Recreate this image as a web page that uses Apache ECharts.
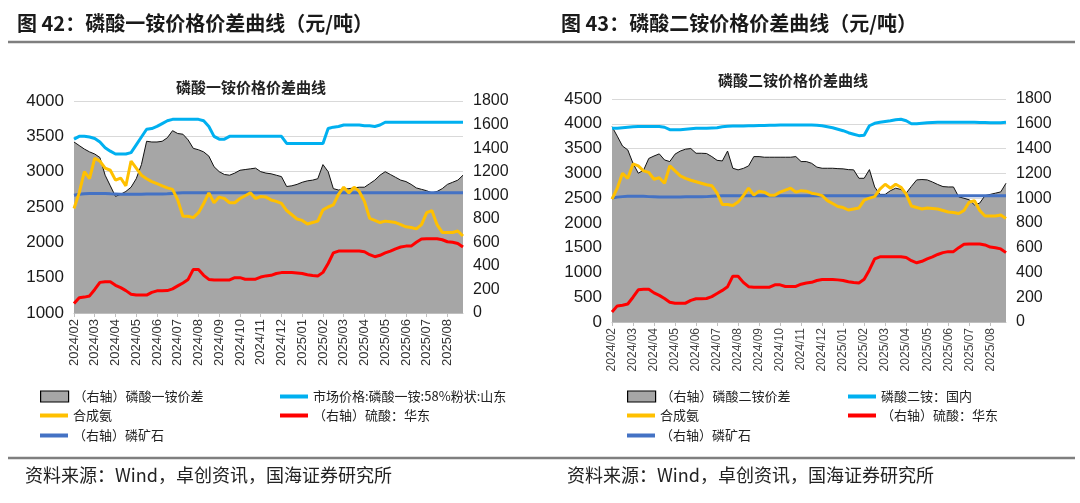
<!DOCTYPE html>
<html>
<head>
<meta charset="utf-8">
<script src="https://cdn.jsdelivr.net/npm/echarts@6/dist/echarts.min.js"></script>
<style>
  html, body { margin: 0; padding: 0; background: #fff; }
  #main { width: 1080px; height: 503px; }
</style>
</head>
<body>
<div id="main"></div>
<script>
// 月份 + 每月四个采样日
var months = ['2024/02','2024/03','2024/04','2024/05','2024/06','2024/07','2024/08','2024/09','2024/10',
    '2024/11','2024/12','2025/01','2025/02','2025/03','2025/04','2025/05','2025/06','2025/07','2025/08'];
var weekDays = ['01','08','16','23'];
var dates = [];
months.forEach(function (m) {
    weekDays.forEach(function (d) { dates.push(m + '/' + d); });
});

// 图42 磷酸一铵
var mapSpread = [1452,1422,1392,1368, 1350,1320,1170,1080, 990,1008,1032,1068, 1140,1260,1458,1452,
    1452,1458,1488,1548, 1524,1518,1470,1398, 1386,1368,1332,1242, 1200,1176,1170,1188,
    1212,1218,1224,1230, 1200,1188,1182,1170, 1158,1074,1080,1092, 1110,1122,1128,1140,
    1260,1200,1056,1044, 1050,1056,1062,1068, 1068,1098,1128,1170, 1200,1176,1152,1128,
    1116,1092,1062,1050, 1038,1020,1032,1056, 1092,1110,1128,1170];
var mapPrice = [3460,3500,3500,3490, 3470,3420,3340,3290, 3250,3250,3250,3270, 3380,3490,3600,3610,
    3640,3680,3720,3740, 3740,3740,3740,3740, 3740,3720,3640,3500, 3460,3460,3500,3500,
    3500,3500,3500,3500, 3500,3500,3500,3500, 3500,3400,3400,3400, 3400,3400,3400,3400,
    3400,3610,3630,3640, 3660,3660,3660,3660, 3650,3650,3640,3660, 3700,3700,3700,3700,
    3700,3700,3700,3700, 3700,3700,3700,3700, 3700,3700,3700,3700];

// 图43 磷酸二铵
var dapSpread = [1577,1500,1420,1389, 1281,1201,1225,1320, 1340,1357,1308,1295, 1355,1380,1395,1400,
    1362,1362,1360,1335, 1305,1300,1380,1241, 1228,1240,1260,1335, 1335,1330,1330,1330,
    1330,1330,1330,1335, 1295,1295,1281,1250, 1241,1241,1241,1238, 1236,1230,1228,1160,
    1160,1230,1090,1030, 1030,1060,1080,1070, 1040,1095,1147,1150, 1147,1130,1110,1093,
    1090,1090,1010,999, 986,945,960,1020, 1030,1040,1050,1120];
var dapPrice = [3910,3910,3920,3930, 3940,3945,3945,3945, 3945,3945,3930,3880, 3880,3880,3890,3900,
    3910,3910,3910,3915, 3920,3940,3950,3955, 3955,3955,3960,3960, 3965,3965,3970,3970,
    3975,3975,3975,3975, 3975,3975,3975,3970, 3960,3940,3920,3890, 3860,3820,3790,3760,
    3770,3960,4010,4030, 4045,4060,4080,4090, 4060,4000,4000,4010, 4020,4025,4030,4030,
    4030,4030,4030,4030, 4030,4030,4025,4025, 4020,4020,4020,4030];

// 共用：合成氨、硫酸、磷矿石
var ammonia = [2480,2700,3000,2900, 3190,3150,3050,3020, 2880,2910,2800,3150, 3050,2950,2900,2860,
    2830,2800,2770,2750, 2600,2370,2370,2350, 2420,2550,2700,2560, 2640,2620,2560,2560,
    2620,2660,2700,2620, 2650,2640,2600,2580, 2550,2450,2390,2330, 2310,2260,2280,2300,
    2460,2500,2530,2680, 2780,2700,2780,2720, 2580,2340,2310,2280, 2300,2290,2280,2250,
    2220,2210,2190,2250, 2420,2450,2250,2140, 2140,2140,2160,2090];
var sulfuric = [80,130,135,145, 200,260,265,265, 235,215,190,160, 152,152,152,175,
    188,188,190,205, 230,255,285,370, 370,320,285,281, 281,281,281,300,
    300,287,287,287, 305,315,320,335, 343,343,343,340, 335,325,318,315,
    345,420,510,526, 526,526,526,526, 520,495,478,490, 510,526,545,560,
    568,568,600,628, 630,630,630,622, 605,600,590,560];
var rock = [1000,1008,1012,1015, 1015,1015,1015,1012, 1010,1008,1008,1008, 1008,1008,1010,1010,
    1010,1010,1012,1015, 1018,1020,1020,1020, 1020,1020,1020,1020, 1020,1020,1020,1020,
    1020,1020,1020,1020, 1020,1020,1020,1020, 1020,1020,1020,1020, 1020,1020,1020,1020,
    1020,1020,1020,1020, 1020,1020,1020,1020, 1020,1020,1020,1020, 1020,1020,1020,1020,
    1020,1020,1020,1020, 1020,1020,1020,1020, 1020,1020,1020,1020];

var leftTicks = [1000, 4000, 500];
var rightTicks = [0, 4500, 500];
var rAxisTicks = [0, 1800, 200];

var CJK = '"Noto Sans CJK SC", sans-serif';
var NUM = '"Liberation Sans", Arial, sans-serif';

function monthOnly(idx) { return idx % 4 === 0; }

function xAxisOf(grid, size, color) {
    return {
        type: 'category', gridIndex: grid, data: dates, boundaryGap: false,
        axisLine: {lineStyle: {color: '#bfbfbf', width: 1}},
        axisTick: {interval: monthOnly, length: 4, lineStyle: {color: '#bfbfbf'}},
        axisLabel: {
            interval: monthOnly, rotate: 90, fontSize: size, color: color, fontFamily: NUM, margin: 6,
            formatter: function (v) { return v.slice(0, 7); }
        },
        splitLine: {show: false}
    };
}

function yAxisOf(grid, t, pos, split, size) {
    return {
        type: 'value', gridIndex: grid, position: pos, min: t[0], max: t[1], interval: t[2],
        axisLine: {show: false}, axisTick: {show: false},
        axisLabel: {fontSize: size, color: '#1a1a1a', fontFamily: NUM, margin: 10,
            formatter: function (v) { return String(v); }},
        splitLine: {show: split, lineStyle: {color: '#d9d9d9', width: 1}}
    };
}

function lineSeries(name, data, color, x, y, z) {
    return {
        name: name, type: 'line', xAxisIndex: x, yAxisIndex: y, data: data,
        symbol: 'none', z: z, lineStyle: {color: color, width: 3}, itemStyle: {color: color}
    };
}

function areaSeries(name, data, x, y) {
    return {
        name: name, type: 'line', xAxisIndex: x, yAxisIndex: y, data: data,
        symbol: 'none', z: 1,
        lineStyle: {color: '#111', width: 1},
        itemStyle: {color: '#a6a6a6'},
        areaStyle: {color: '#a6a6a6', opacity: 1}
    };
}

function legendOf(name, left, top, isArea) {
    var item = {name: name};
    if (isArea) item.itemStyle = {color: '#a6a6a6', borderColor: '#000', borderWidth: 1.2};
    return {
        left: left, top: top, icon: 'rect', selectedMode: false,
        itemWidth: 28, itemHeight: isArea ? 11 : 4, itemGap: 6,
        data: [item],
        textStyle: {fontSize: 13, color: '#222', fontFamily: CJK}
    };
}

var chart = echarts.init(document.getElementById('main'));
var option = {
    animation: false,
    backgroundColor: '#fff',
    title: [
        {text: '图 42：磷酸一铵价格价差曲线（元/吨）', left: 12, top: 8,
            textStyle: {fontSize: 20, fontWeight: 'bold', color: '#1a1a1a', fontFamily: CJK}},
        {text: '图 43：磷酸二铵价格价差曲线（元/吨）', left: 556, top: 8,
            textStyle: {fontSize: 20, fontWeight: 'bold', color: '#1a1a1a', fontFamily: CJK}},
        {text: '磷酸一铵价格价差曲线', left: 246, top: 75, textAlign: 'center',
            textStyle: {fontSize: 15, fontWeight: 'bold', color: '#222', fontFamily: CJK}},
        {text: '磷酸二铵价格价差曲线', left: 788, top: 68, textAlign: 'center',
            textStyle: {fontSize: 15, fontWeight: 'bold', color: '#222', fontFamily: CJK}},
        {text: '资料来源：Wind，卓创资讯，国海证券研究所', left: 20, top: 461,
            textStyle: {fontSize: 18, fontWeight: 'normal', color: '#222', fontFamily: CJK}},
        {text: '资料来源：Wind，卓创资讯，国海证券研究所', left: 562, top: 461,
            textStyle: {fontSize: 18, fontWeight: 'normal', color: '#222', fontFamily: CJK}}
    ],
    graphic: [
        {type: 'line', shape: {x1: 8, y1: 42, x2: 1075, y2: 42}, style: {stroke: '#7f7f7f', lineWidth: 2.5}},
        {type: 'line', shape: {x1: 8, y1: 458, x2: 1075, y2: 458}, style: {stroke: '#7f7f7f', lineWidth: 2.5}}
    ],
    legend: [
        legendOf('（右轴）磷酸一铵价差', 35, 385, true),
        legendOf('合成氨', 35, 404, false),
        legendOf('（右轴）磷矿石', 35, 424, false),
        legendOf('市场价格:磷酸一铵:58%粉状:山东', 275, 385, false),
        legendOf('（右轴）硫酸：华东', 275, 404, false),
        legendOf('（右轴）磷酸二铵价差', 622, 385, true),
        legendOf('磷酸二铵：国内', 843, 385, false),
        legendOf('合成氨', 622, 404, false),
        legendOf('（右轴）磷矿石', 622, 424, false),
        legendOf('（右轴）硫酸：华东', 843, 404, false)
    ],
    grid: [
        {left: 74, right: 617, top: 101, bottom: 190},
        {left: 612, right: 74, top: 99, bottom: 181}
    ],
    xAxis: [xAxisOf(0, 13, '#333'), xAxisOf(1, 12, '#444')],
    yAxis: [
        yAxisOf(0, leftTicks, 'left', true, 17),
        yAxisOf(0, rAxisTicks, 'right', false, 16),
        yAxisOf(1, rightTicks, 'left', true, 17),
        yAxisOf(1, rAxisTicks, 'right', false, 16)
    ],
    series: [
        areaSeries('（右轴）磷酸一铵价差', mapSpread, 0, 1),
        lineSeries('（右轴）磷矿石', rock, '#4472c4', 0, 1, 3),
        lineSeries('（右轴）硫酸：华东', sulfuric, '#ff0000', 0, 1, 4),
        lineSeries('市场价格:磷酸一铵:58%粉状:山东', mapPrice, '#00b0f0', 0, 0, 5),
        lineSeries('合成氨', ammonia, '#ffc000', 0, 0, 6),

        areaSeries('（右轴）磷酸二铵价差', dapSpread, 1, 3),
        lineSeries('（右轴）磷矿石', rock, '#4472c4', 1, 3, 3),
        lineSeries('（右轴）硫酸：华东', sulfuric, '#ff0000', 1, 3, 4),
        lineSeries('磷酸二铵：国内', dapPrice, '#00b0f0', 1, 2, 5),
        lineSeries('合成氨', ammonia, '#ffc000', 1, 2, 6)
    ]
};
chart.setOption(option);
</script>
</body>
</html>
